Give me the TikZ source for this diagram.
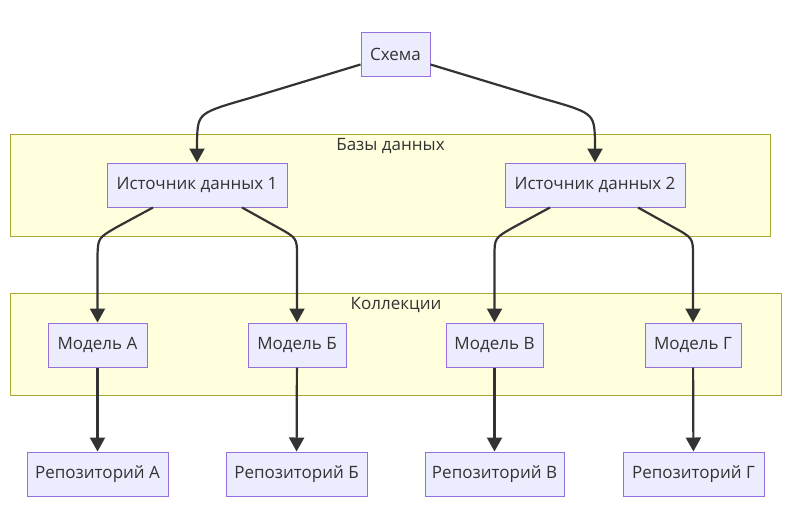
\documentclass[tikz,border=0pt]{standalone}
\usepackage{fontspec}
\setmainfont{Open Sans}
\usetikzlibrary{arrows.meta}
\definecolor{nodefill}{HTML}{ECECFF}
\definecolor{nodeline}{HTML}{9370DB}
\definecolor{groupfill}{HTML}{FFFFDE}
\definecolor{groupline}{HTML}{AAAA33}
\definecolor{ink}{HTML}{333333}
\begin{document}
\begin{tikzpicture}[x=1pt, y=-1pt,
		every node/.style={font=\fontsize{17}{20}\selectfont, text=ink},
		box/.style={draw=nodeline, fill=nodefill, line width=1pt, minimum height=44pt, inner sep=0pt},
		group/.style={draw=groupline, fill=groupfill, line width=1pt},
		link/.style={draw=ink, line width=2.2pt, -{Triangle[length=14pt, width=15pt]}}]
		\useasboundingbox[fill=white] (0,0) rectangle (791,530);
		
		% Группы
		\draw[group] (10,134) rectangle (770.5,236);
		\node (dbtitle) at (390.5,146) {Базы данных};
		\draw[group] (10,293) rectangle (781.5,395);
		\node (coltitle) at (396,305) {Коллекции};
		
		% Узлы
		\node[box, minimum width=69pt] (schema) at (395.5,54.5) {Схема};
		\node[box, minimum width=180pt] (src1) at (197,185) {Источник данных 1};
		\node[box, minimum width=180pt] (src2) at (595,185) {Источник данных 2};
		
		\node[box, minimum width=99pt] (modelA) at (97.5,345) {Модель А};
		\node[box, minimum width=98pt] (modelB) at (297,345) {Модель Б};
		\node[box, minimum width=97pt] (modelV) at (494.5,345) {Модель В};
		\node[box, minimum width=96pt] (modelG) at (693,345) {Модель Г};
		
		\node[box, minimum width=141pt] (repoA) at (97.5,474) {Репозиторий А};
		\node[box, minimum width=141pt] (repoB) at (296.5,474) {Репозиторий Б};
		\node[box, minimum width=139pt] (repoV) at (494.5,474) {Репозиторий В};
		\node[box, minimum width=141pt] (repoG) at (693.5,474) {Репозиторий Г};
		
		% Связи
		\draw[link] ([yshift=-10pt]schema.west) -- (250,98) .. controls (198,113) .. (197,140) -- (src1);
		\draw[link] ([yshift=-10pt]schema.east) -- (541,98) .. controls (594,113) .. (595,140) -- (src2);
		
		\draw[link] ([xshift=-44pt]src1.south) -- (117,227) .. controls (98,238) .. (97.5,256) -- (modelA);
		\draw[link] ([xshift=45pt]src1.south) -- (277,227) .. controls (297,238) .. (297,256) -- (modelB);
		\draw[link] ([xshift=-45pt]src2.south) -- (514,227) .. controls (494.5,238) .. (494.5,256) -- (modelV);
		\draw[link] ([xshift=43pt]src2.south) -- (673,227) .. controls (693,238) .. (693,256) -- (modelG);
		
		\draw[link] (modelA) -- (repoA);
		\draw[link] (modelB) -- (repoB);
		\draw[link] (modelV) -- (repoV);
		\draw[link] (modelG) -- (repoG);
	\end{tikzpicture}
\end{document}
